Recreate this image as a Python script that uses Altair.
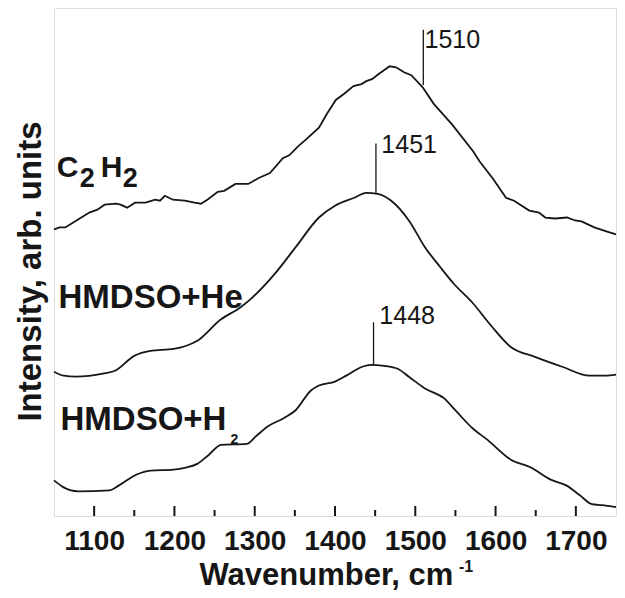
import altair as alt
import pandas as pd

# ---------------- data ----------------
c2h2_wn = [1050, 1057, 1064, 1074, 1084, 1094, 1104, 1113, 1127, 1133,
           1141, 1151, 1164, 1176, 1182, 1188, 1198, 1213, 1225, 1233,
           1241, 1254, 1262, 1268, 1276, 1292, 1305, 1319, 1335, 1343,
           1354, 1364, 1380, 1390, 1401, 1411, 1423, 1433, 1439, 1446,
           1454, 1468, 1476, 1486, 1495, 1509, 1523, 1546, 1572, 1580,
           1597, 1613, 1623, 1642, 1654, 1662, 1674, 1689, 1699, 1707,
           1723, 1738, 1750]
c2h2_int = [290, 292, 292, 297, 302, 307, 310, 315, 316, 315,
            312, 317, 317, 320, 319, 324, 320, 319, 317, 316,
            320, 328, 329, 332, 336, 336, 342, 347, 362, 365,
            374, 381, 393, 407, 421, 427, 435, 437, 440, 442,
            447, 455, 454, 449, 446, 434, 417, 396, 369, 359,
            341, 322, 319, 309, 307, 302, 301, 302, 299, 298,
            292, 288, 285]

he_wn = [1050, 1062, 1077, 1111, 1126, 1150, 1170, 1199, 1214, 1228, 1258, 1282, 1297,
         1326, 1351, 1380, 1400, 1424, 1439, 1453, 1473, 1492, 1512, 1531, 1548, 1571,
         1595, 1619, 1649, 1683, 1717, 1737, 1750]
he_int = [146, 142, 141, 144, 147, 162, 167, 169, 172, 177, 199, 211, 221,
          246, 272, 302, 314, 322, 327, 326, 317, 299, 272, 252, 235, 216,
          192, 171, 161, 151, 142, 142, 143]

h2_wn = [1050, 1062, 1080, 1119, 1131, 1153, 1170, 1199, 1214, 1229, 1243, 1258, 1290,
         1302, 1317, 1336, 1351, 1370, 1380, 1400, 1414, 1434, 1444, 1461, 1478, 1492,
         1512, 1536, 1551, 1571, 1590, 1619, 1644, 1668, 1688, 1705, 1720, 1732, 1750]
h2_int = [36, 29, 25, 26, 31, 42, 46, 47, 49, 53, 62, 72, 73,
          81, 91, 99, 107, 127, 132, 136, 142, 151, 153, 152, 149, 141,
          129, 119, 106, 89, 77, 57, 49, 37, 31, 21, 12, 11, 9]

peak_wn = [1510, 1451, 1448]
peak_top = [492, 377, 196]
peak_bottom = [436, 326, 153]
peak_text = ["1510", "1451", "1448"]
peak_label_wn = [1511.5, 1457.7, 1455.2]
peak_label_int = [474, 367, 194]

series_label_wn = [1053.4, 1055.6, 1058.1]
series_label_int = [343, 210.5, 87]

major_ticks = [1100, 1200, 1300, 1400, 1500, 1600, 1700]
minor_ticks = [1150, 1250, 1350, 1450, 1550, 1650]

# ---------------- chart ----------------
FONT = "Liberation Sans"
INK = "#161616"
W, H = 562, 508

x_scale = alt.Scale(domain=[1050, 1750], nice=False, zero=False)
y_scale = alt.Scale(domain=[0, 514], nice=False, zero=False)

x_axis = alt.Axis(values=major_ticks, format="d", labelFont=FONT, labelFontSize=28,
                  labelFontWeight="bold", labelColor=INK, labelPadding=33,
                  labelBaseline="alphabetic", ticks=False, domain=False, grid=False,
                  title="Wavenumber, cm", titleFont=FONT, titleFontSize=31,
                  titleFontWeight="bold", titleColor=INK, titleX=145, titleY=68,
                  titleAlign="left", titleBaseline="alphabetic", titleAngle=0)
y_axis = alt.Axis(labels=False, ticks=False, domain=False, grid=False,
                  title="Intensity, arb. units", titleFont=FONT, titleFontSize=33,
                  titleFontWeight="bold", titleColor=INK, titleX=-14, titleY=263,
                  titleAngle=270, titleAlign="center", titleBaseline="alphabetic")

X = alt.X("wn:Q", scale=x_scale, axis=x_axis)
Y = alt.Y("int:Q", scale=y_scale, axis=y_axis)

c2h2_df = pd.DataFrame({"wn": c2h2_wn, "int": c2h2_int, "series": "C2H2"})
others_df = pd.concat([
    pd.DataFrame({"wn": he_wn, "int": he_int, "series": "HMDSO+He"}),
    pd.DataFrame({"wn": h2_wn, "int": h2_int, "series": "HMDSO+H2"}),
])

line_c2h2 = alt.Chart(c2h2_df).mark_line(color=INK, strokeWidth=1.8).encode(x=X, y=Y)
line_others = alt.Chart(others_df).mark_line(
    color=INK, strokeWidth=1.8, interpolate="monotone").encode(x=X, y=Y, detail="series:N")

peaks_df = pd.DataFrame({"wn": peak_wn, "int": peak_top, "int2": peak_bottom})
peak_rules = alt.Chart(peaks_df).mark_rule(color=INK, strokeWidth=1.3).encode(
    x=X, y=Y, y2="int2:Q")

peak_lab_df = pd.DataFrame({"wn": peak_label_wn, "int": peak_label_int, "t": peak_text})
peak_labels = alt.Chart(peak_lab_df).mark_text(
    font=FONT, fontSize=25, color=INK, align="left", baseline="alphabetic").encode(
    x=X, y=Y, text="t:N")

major_df = pd.DataFrame({"wn": major_ticks})
minor_df = pd.DataFrame({"wn": minor_ticks})
major_rules = alt.Chart(major_df).mark_rule(color=INK, strokeWidth=2).encode(
    x=X, y=alt.value(H), y2=alt.value(H - 10))
minor_rules = alt.Chart(minor_df).mark_rule(color=INK, strokeWidth=2).encode(
    x=X, y=alt.value(H), y2=alt.value(H - 6))


def part(idx, text, size, dx=0, dy=0):
    df = pd.DataFrame({"wn": [series_label_wn[idx]], "int": [series_label_int[idx]],
                       "t": [text]})
    return alt.Chart(df).mark_text(font=FONT, fontSize=size, fontWeight="bold", color=INK,
                                   align="left", baseline="alphabetic", dx=dx, dy=dy).encode(
        x=X, y=Y, text="t:N")


series_labels = [
    part(0, "C", 30), part(0, "2", 27, dx=23, dy=10),
    part(0, "H", 30, dx=44), part(0, "2", 27, dx=66, dy=10),
    part(1, "HMDSO+He", 33),
    part(2, "HMDSO+H", 33), part(2, "2", 14, dx=170, dy=14),
]

sup = alt.Chart(pd.DataFrame({"t": ["-1"]})).mark_text(
    font=FONT, fontSize=16, fontWeight="bold", color=INK, align="left",
    baseline="alphabetic").encode(x=alt.value(405), y=alt.value(564), text="t:N")

chart = alt.layer(
    line_c2h2, line_others, peak_rules, peak_labels, major_rules, minor_rules,
    *series_labels, sup
).properties(
    width=W, height=H,
    padding={"left": 46, "top": 0, "right": 1, "bottom": 74},
    autosize=alt.AutoSizeParams(type="none"),
).configure_view(stroke=INK, strokeWidth=2).configure(background="white")

chart.save("out.html", embed_options={"renderer": "svg", "actions": False})
